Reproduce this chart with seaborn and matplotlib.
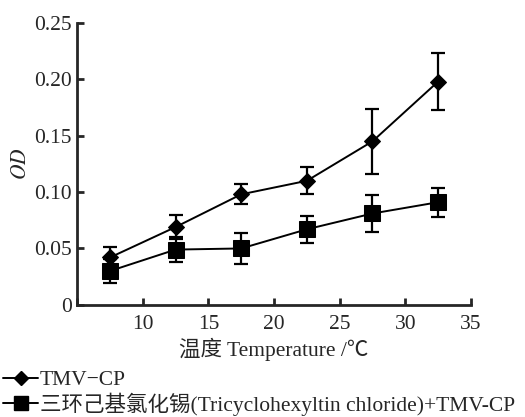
import numpy as np
import pandas as pd
import seaborn as sns
import matplotlib.pyplot as plt
from matplotlib.lines import Line2D

# data
temperature = [7.5, 12.5, 17.5, 22.5, 27.5, 32.5]
od_tmv = [0.042, 0.069, 0.098, 0.110, 0.145, 0.198]
err_tmv = [0.009, 0.011, 0.009, 0.012, 0.029, 0.025]
od_tch = [0.030, 0.049, 0.050, 0.067, 0.081, 0.091]
err_tch = [0.011, 0.011, 0.014, 0.012, 0.016, 0.013]
y_ticks = [0, 0.05, 0.10, 0.15, 0.20, 0.25]
y_labels = ["0", "0.05", "0.10", "0.15", "0.20", "0.25"]
x_ticks = [5, 10, 15, 20, 25, 30, 35]
x_labels = ["", "10", "15", "20", "25", "30", "35"]
name_tmv = "TMV\u2212CP"
name_tch = "三环己基氯化锡(Tricyclohexyltin chloride)+TMV-CP"

sns.set_style("ticks")
plt.rcParams["font.family"] = ["Liberation Serif", "Noto Sans CJK SC"]
plt.rcParams["mathtext.fontset"] = "stix"

df = pd.concat([
    pd.DataFrame({"T": temperature, "OD": od_tmv, "err": err_tmv, "grp": name_tmv}),
    pd.DataFrame({"T": temperature, "OD": od_tch, "err": err_tch, "grp": name_tch}),
])

fig = plt.figure(figsize=(5.25, 4.17), dpi=100)
ax = fig.add_axes([0.147, 0.269, 0.750, 0.676])

for name, mk, ms in [(name_tmv, "D", 8), (name_tch, "s", 11)]:
    sub = df[df["grp"] == name]
    ax.errorbar(sub["T"], sub["OD"], yerr=sub["err"], fmt="none",
                ecolor="black", elinewidth=1.6, capsize=5, capthick=1.6, zorder=2)
    sns.lineplot(data=sub, x="T", y="OD", ax=ax, color="black", linewidth=1.4,
                 marker=mk, markersize=ms, markeredgecolor="black", zorder=3,
                 legend=False)

ax.set_xlim(5, 35)
ax.set_ylim(0, 0.25)
ax.set_xticks(x_ticks)
ax.set_xticklabels(x_labels)
ax.set_yticks(y_ticks)
ax.set_yticklabels(y_labels)
ax.tick_params(direction="in", length=5, width=2, labelsize=15.5, pad=4)
ax.tick_params(axis="x", pad=7)
for s in ["left", "bottom"]:
    ax.spines[s].set_linewidth(2)
sns.despine(ax=ax)

ax.set_xlabel("温度 Temperature /℃", fontsize=15.5, labelpad=3)
ax.set_ylabel("$OD$", fontsize=15.5, labelpad=2)

handles = [
    Line2D([], [], color="black", marker="D", markersize=7, linewidth=1.4),
    Line2D([], [], color="black", marker="s", markersize=10, linewidth=1.4),
]
fig.legend(handles, [name_tmv, name_tch], loc="upper left",
           bbox_to_anchor=(-0.01, 0.133), frameon=False, fontsize=15.5,
           handlelength=1.6, handletextpad=0.1, labelspacing=0.1,
           borderaxespad=0)

fig.savefig("out.png", dpi=100)
